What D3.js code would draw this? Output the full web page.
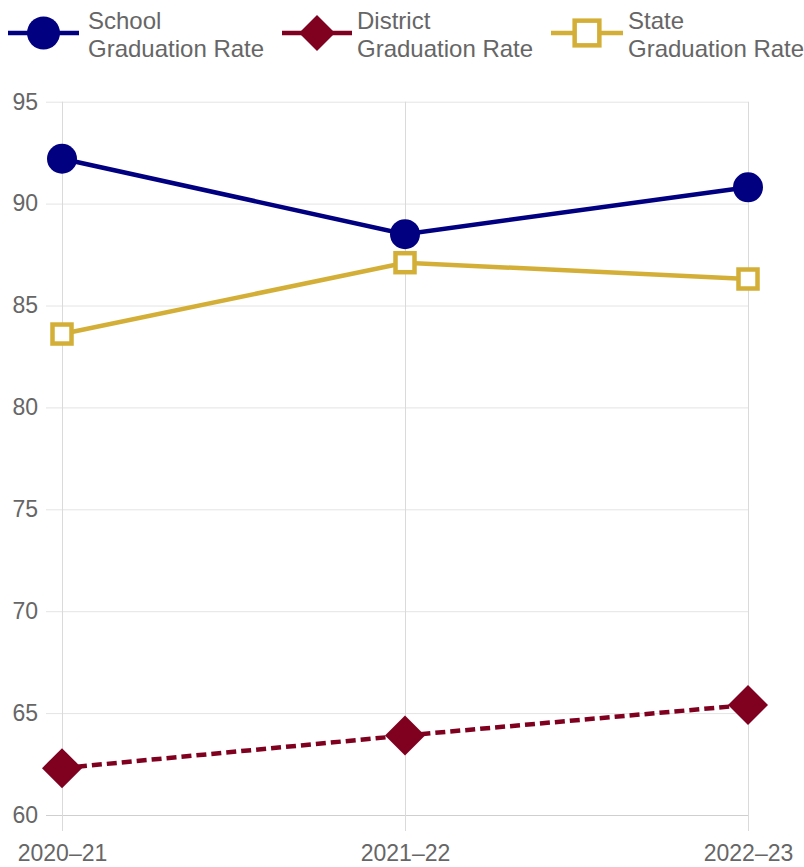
<!DOCTYPE html>
<html>
<head>
<meta charset="utf-8">
<script src="https://cdn.jsdelivr.net/npm/d3@7"></script>
<style>
  html, body { margin: 0; padding: 0; background: #fff; }
  svg { display: block; font-family: "Liberation Sans", Arial, sans-serif; }
</style>
</head>
<body>
<svg id="chart" width="804" height="867"></svg>
<script>
// Graduation rates by school year
const years = ["2020\u201321", "2021\u201322", "2022\u201323"];
const schoolRate = [92.2, 88.5, 90.8];
const districtRate = [62.3, 63.9, 65.4];
const stateRate = [83.6, 87.1, 86.3];
const yTicks = [60, 65, 70, 75, 80, 85, 90, 95];

const series = [
  { name: ["School", "Graduation Rate"], values: schoolRate, color: "#000080", marker: "circle", dash: null },
  { name: ["District", "Graduation Rate"], values: districtRate, color: "#800020", marker: "diamond", dash: "10,5" },
  { name: ["State", "Graduation Rate"], values: stateRate, color: "#d4af37", marker: "square", dash: null }
];

const svg = d3.select("#chart");
const plot = { left: 62, right: 748, top: 101.7, bottom: 815 };
const tickLen = 16;

const x = d3.scalePoint().domain(years).range([plot.left, plot.right]);
const y = d3.scaleLinear().domain([60, 95]).range([plot.bottom, plot.top]);

// Horizontal grid lines with y tick labels
const yAxis = d3.axisLeft(y).tickValues(yTicks).tickSize(plot.right - plot.left + tickLen).tickPadding(8);
const gy = svg.append("g").attr("transform", `translate(${plot.right},0)`).call(yAxis);
gy.select(".domain").remove();
gy.selectAll(".tick line").attr("stroke", "#e4e4e4").attr("stroke-width", 1);
gy.selectAll(".tick line").filter(d => d === 60).attr("stroke", "#cfcfcf");
gy.selectAll(".tick text").attr("fill", "#666").style("font-size", "23px");

// Vertical grid lines with category labels
const xAxis = d3.axisBottom(x).tickSize(plot.bottom - plot.top + tickLen).tickPadding(14);
const gx = svg.append("g").attr("transform", `translate(0,${plot.top})`).call(xAxis);
gx.select(".domain").remove();
gx.selectAll(".tick line").attr("stroke", "#dadada").attr("stroke-width", 1);
gx.selectAll(".tick text").attr("fill", "#666").style("font-size", "23px");

function drawMarker(g, type, color, cx, cy, scale) {
  if (type === "circle") {
    g.append("circle").attr("cx", cx).attr("cy", cy).attr("r", 15 * scale).attr("fill", color);
  } else if (type === "diamond") {
    const r = 20 * scale;
    g.append("path")
      .attr("d", `M${cx},${cy - r}L${cx + r},${cy}L${cx},${cy + r}L${cx - r},${cy}Z`)
      .attr("fill", color);
  } else {
    const s = 19 * scale;
    g.append("rect").attr("x", cx - s / 2).attr("y", cy - s / 2).attr("width", s).attr("height", s)
      .attr("fill", "#fff").attr("stroke", color).attr("stroke-width", 4.5);
  }
}

const line = d3.line().x((d, i) => x(years[i])).y(d => y(d));

// Lines and point markers
series.forEach(s => {
  const g = svg.append("g");
  g.append("path")
    .datum(s.values)
    .attr("d", line)
    .attr("fill", "none")
    .attr("stroke", s.color)
    .attr("stroke-width", 4.5)
    .attr("stroke-dasharray", s.dash);
  s.values.forEach((v, i) => drawMarker(g, s.marker, s.color, x(years[i]), y(v), 1));
});

// Legend
const legendItems = [
  { lineX: [8, 79], textX: 88 },
  { lineX: [282, 352], textX: 357 },
  { lineX: [551, 623], textX: 628 }
];
const legendY = 33;
series.forEach((s, i) => {
  const li = legendItems[i];
  const g = svg.append("g");
  g.append("line")
    .attr("x1", li.lineX[0]).attr("x2", li.lineX[1])
    .attr("y1", legendY).attr("y2", legendY)
    .attr("stroke", s.color).attr("stroke-width", 4.5);
  const cx = (li.lineX[0] + li.lineX[1]) / 2;
  const sc = s.marker === "circle" ? 1.1 : (s.marker === "diamond" ? 0.9 : 1.3);
  drawMarker(g, s.marker, s.color, cx, legendY, sc);
  const t = g.append("text").attr("x", li.textX).attr("fill", "#666").style("font-size", "24px");
  t.append("tspan").attr("x", li.textX).attr("y", 29).text(s.name[0]);
  t.append("tspan").attr("x", li.textX).attr("y", 57).text(s.name[1]);
});
</script>
</body>
</html>
